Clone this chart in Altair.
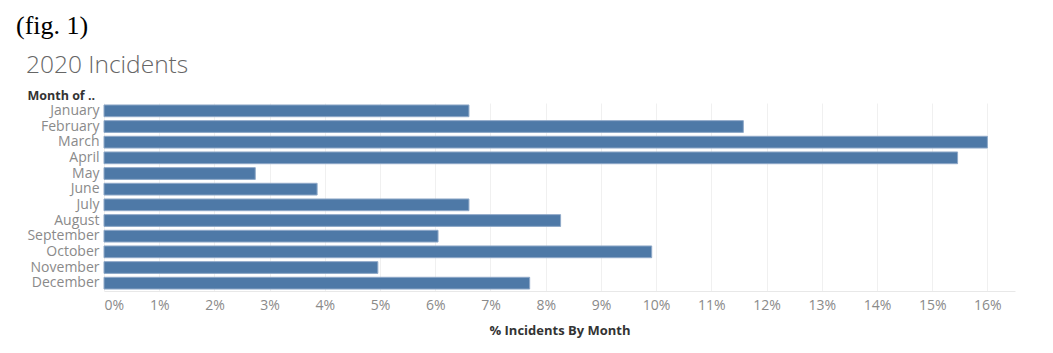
import altair as alt
import pandas as pd

months = ["January", "February", "March", "April", "May", "June", "July",
          "August", "September", "October", "November", "December"]
pct = [0.0661, 0.1158, 0.1600, 0.1546, 0.0274, 0.0386, 0.0661,
       0.0827, 0.0605, 0.0992, 0.0496, 0.0771]
tick_vals = [i / 100 for i in range(0, 17)]

df = pd.DataFrame({"month": months, "pct": pct})

FONT = "Open Sans"

bars = alt.Chart(df).mark_bar(
    color="#4e79a7", stroke="#8fa9c8", strokeWidth=1
).encode(
    x=alt.X("pct:Q",
            scale=alt.Scale(domain=[0, 0.165], nice=False, zero=True),
            axis=alt.Axis(values=tick_vals, format=".0%",
                          title="% Incidents By Month",
                          titleFont=FONT, titleFontSize=13, titleFontWeight="bold",
                          titleColor="#333333", titlePadding=12,
                          labelFont=FONT, labelFontSize=14, labelColor="#8a8a8a",
                          labelPadding=7, labelFlush=True,
                          ticks=False, domain=True, domainColor="#e8e8e8",
                          grid=True, gridColor="#f0f0f0")),
    y=alt.Y("month:N", sort=months,
            scale=alt.Scale(paddingInner=0.25, paddingOuter=0.125),
            axis=alt.Axis(title="Month of ..", titleAngle=0, titleX=-77, titleY=-8,
                          titleAlign="left", titleBaseline="middle",
                          titleFont=FONT, titleFontSize=12.5, titleFontWeight="bold",
                          titleColor="#333333",
                          labelFont=FONT, labelFontSize=14, labelColor="#8a8a8a",
                          labelPadding=5, ticks=False, domain=False, grid=False)),
)

ann = pd.DataFrame({"a": [1]})
fig_label = alt.Chart(ann).mark_text(
    text="(fig. 1)", font="Liberation Serif", fontSize=26, color="#000000",
    align="left", baseline="middle"
).encode(x=alt.value(-88), y=alt.value(-77))

title_label = alt.Chart(ann).mark_text(
    text="2020 Incidents", font=FONT, fontSize=24.5, color="#666666",
    align="left", baseline="middle", fontWeight=300
).encode(x=alt.value(-78), y=alt.value(-37))

chart = alt.layer(bars, fig_label, title_label).properties(
    width=911, height=188,
    background="white",
    autosize=alt.AutoSizeParams(type="none"),
    padding={"left": 104, "top": 103, "right": 38, "bottom": 62},
).configure_view(strokeWidth=0, stroke="transparent")

chart.save("out.html", embed_options={"renderer": "svg", "actions": False})
